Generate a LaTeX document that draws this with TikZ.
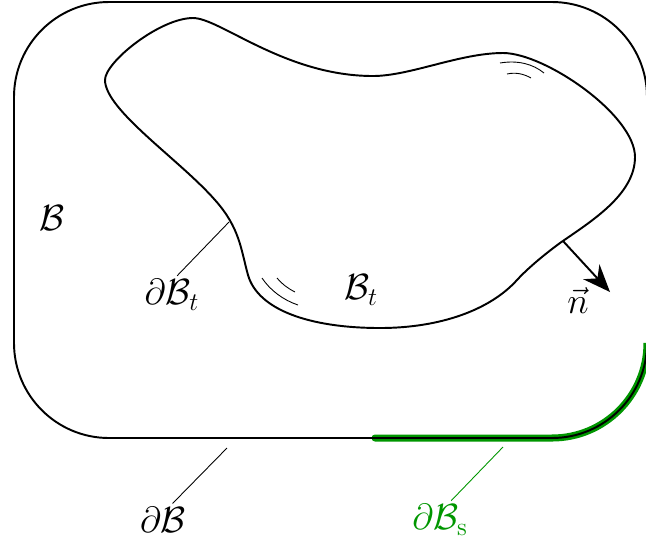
\documentclass[tikz,border=0pt]{standalone}
\usepackage{amsmath,amssymb}
\usepackage{tikz}
\usetikzlibrary{arrows.meta,positioning}
\usepackage{xcolor}
\definecolor{bdgreen}{RGB}{0,150,0}

\begin{document}
\begin{tikzpicture}[
  x=0.2mm, y=-0.2mm,
  every node/.style={font=\huge, inner sep=2pt},
  bnd/.style={line width=1.1pt},
  lead/.style={line width=0.5pt},
  curv/.style={line width=0.5pt},
  arr/.style={-{Stealth[length=5.5mm, width=4.4mm]}, line width=1.1pt},
]
  \useasboundingbox (0,0) rectangle (646,547);

  % Support part of the boundary
  \draw[bdgreen, line width=4pt, line cap=round, rounded corners=1.9cm] (375,438) -- (647,438) -- (647,343);
  % Body
  \draw[bnd, rounded corners=1.9cm] (14,2) rectangle (647,438);

  % Current configuration
  \draw[bnd] (105,80) .. controls (105,62) and (160,18) .. (193,18)
    .. controls (220,18) and (285,76) .. (373,76)
    .. controls (410,76) and (460,53) .. (503,53)
    .. controls (545,53) and (635,115) .. (635,157)
    .. controls (635,195) and (590,222) .. (560,243)
    .. controls (545,254) and (528,268) .. (517,280)
    .. controls (490,310) and (440,328) .. (380,328)
    .. controls (310,328) and (258,310) .. (248,275)
    .. controls (241,250) and (240,228) .. (215,200)
    .. controls (180,160) and (105,110) .. (105,80) -- cycle;

  % Curvature marks
  \draw[curv] (500,63) .. controls (518,60) and (533,64) .. (544,73);
  \draw[curv] (507,74) .. controls (516,72) and (524,74) .. (531,78);
  \draw[curv] (262,278) .. controls (270,290) and (283,300) .. (298,305);
  \draw[curv] (277,278) .. controls (283,285) and (289,289) .. (295,292);

  % Points on the boundaries
  \coordinate (pt) at (229,222);
  \coordinate (pn) at (563,241);
  \coordinate (nt) at (610,292);
  \coordinate (pb) at (227,448);
  \coordinate (ps) at (503,447);

  % Labels
  \node (B) at (52,218) {$\mathcal{B}$};
  \node (Bt) at (361,290) {$\mathcal{B}_t$};
  \node (dBt) at (172,295) {$\partial\mathcal{B}_t$};
  \node (dB) at (163,520) {$\partial\mathcal{B}$};
  \node[text=bdgreen] (dBs) at (440,520) {$\partial\mathcal{B}_\mathrm{s}$};
  \node (n) at (578,300) {$\vec{n}$};

  % Leaders and normal
  \draw[lead] (pt) -- (dBt.75);
  \draw[lead] (pb) -- (dB.60);
  \draw[lead, bdgreen] (ps) -- (dBs.60);
  \draw[arr] (pn) -- (nt);
\end{tikzpicture}
\end{document}
